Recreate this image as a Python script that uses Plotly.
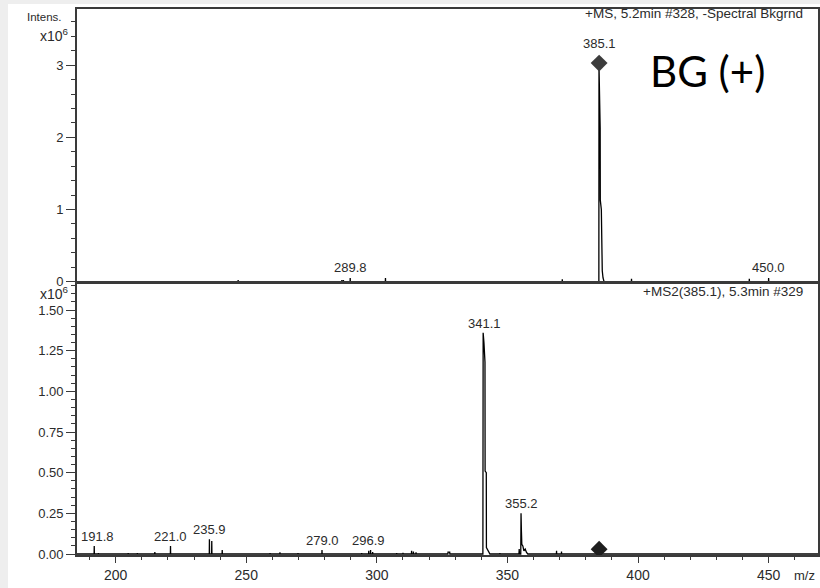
import plotly.graph_objects as go
from plotly.subplots import make_subplots

# ---------------- data (intensity in units of 10^6) ----------------
# MS1 full scan (top panel): profile of precursor + small sticks
ms1_profile_mz = [385.0, 385.05, 385.5, 385.55, 385.95, 386.0, 386.3, 386.6, 387.0]
ms1_profile_int = [0.0, 3.0, 2.13, 1.13, 1.0, 0.57, 0.15, 0.05, 0.0]
ms1_stick_mz = [209.7, 246.9, 286.6, 287.2, 289.8, 303.3, 371.0, 397.5, 442.6, 450.0]
ms1_stick_int = [0.01, 0.02, 0.02, 0.02, 0.05, 0.05, 0.03, 0.04, 0.04, 0.05]
ms1_label_mz = [289.8, 385.1, 450.0]
ms1_label_int = [0.05, 3.0, 0.05]
ms1_label_text = ["289.8", "385.1", "450.0"]

# MS2 of 385.1 (bottom panel)
ms2_profile_mz = [327.2, 327.25, 327.9, 327.95,
                  340.6, 340.7, 341.0, 341.4, 341.45, 341.9, 341.95, 342.5, 343.3,
                  354.4, 354.5, 354.6,
                  355.1, 355.2, 355.35, 355.5, 355.9, 356.3, 356.8, 357.3, 357.8]
ms2_profile_int = [0.0, 0.012, 0.012, 0.0,
                   0.0, 1.36, 1.30, 1.18, 0.51, 0.50, 0.04, 0.02, 0.0,
                   0.0, 0.03, 0.0,
                   0.0, 0.25, 0.14, 0.06, 0.05, 0.02, 0.03, 0.01, 0.0]
ms2_stick_mz = [191.8, 193.4, 204.8, 208.3, 215.0, 221.0, 235.9, 236.8, 240.8,
                259.1, 262.9, 269.8, 279.0, 294.2, 296.9, 297.6, 298.4, 307.6,
                310.0, 313.3, 314.0, 315.0, 347.1, 368.8, 370.7]
ms2_stick_int = [0.05, 0.006, 0.005, 0.005, 0.012, 0.05, 0.09, 0.08, 0.025,
                 0.005, 0.01, 0.005, 0.025, 0.006, 0.02, 0.025, 0.012, 0.006,
                 0.007, 0.02, 0.015, 0.01, 0.006, 0.02, 0.015]
ms2_label_mz = [191.8, 221.0, 235.9, 279.0, 296.9, 341.1, 355.2]
ms2_label_int = [0.05, 0.05, 0.09, 0.025, 0.025, 1.36, 0.25]
ms2_label_text = ["191.8", "221.0", "235.9", "279.0", "296.9", "341.1", "355.2"]

precursor_mz = 385.1
precursor_int_ms1 = 3.03
precursor_int_ms2 = 0.03

x_range = [185.2, 468.9]
ms1_y_range = [-0.006, 3.78]
ms2_y_range = [-0.006, 1.666]
x_ticks = [200, 250, 300, 350, 400, 450]
ms1_y_ticks = [0, 1, 2, 3]
ms2_y_ticks = [0.0, 0.25, 0.5, 0.75, 1.0, 1.25, 1.5]

title_ms1 = "+MS, 5.2min #328, -Spectral Bkgrnd"
title_ms2 = "+MS2(385.1), 5.3min #329"
big_label = "BG (+)"

# ---------------- helpers ----------------
def build_trace(profile_mz, profile_int, stick_mz, stick_int):
    pts = list(zip(profile_mz, profile_int))
    for m, h in zip(stick_mz, stick_int):
        pts += [(m - 0.05, 0.0), (m, h), (m + 0.05, 0.0)]
    pts.append((x_range[0], 0.0))
    pts.append((x_range[1], 0.0))
    pts.sort(key=lambda p: p[0])
    return [p[0] for p in pts], [p[1] for p in pts]

W, H = 820, 588
ML, MR, MT, MB = 77, 2, 9, 33
PW = W - ML - MR
PH = H - MT - MB

def px(xp):
    return (xp - ML) / PW

def py(yp):
    return (H - MB - yp) / PH

FONT = "Liberation Sans, Arial, sans-serif"
TXT = "#2b2b2b"
AX = "#3a3a3a"

fig = make_subplots(rows=2, cols=1, shared_xaxes=False, vertical_spacing=0)

x1, y1 = build_trace(ms1_profile_mz, ms1_profile_int, ms1_stick_mz, ms1_stick_int)
x2, y2 = build_trace(ms2_profile_mz, ms2_profile_int, ms2_stick_mz, ms2_stick_int)

fig.add_trace(go.Scatter(x=x1, y=y1, mode="lines", line=dict(color="black", width=1.3),
                         hoverinfo="skip", showlegend=False), row=1, col=1)
fig.add_trace(go.Scatter(x=x2, y=y2, mode="lines", line=dict(color="black", width=1.3),
                         hoverinfo="skip", showlegend=False), row=2, col=1)
fig.add_trace(go.Scatter(x=[precursor_mz], y=[precursor_int_ms1], mode="markers",
                         marker=dict(symbol="diamond", size=13, color="#3c3c3c"),
                         showlegend=False), row=1, col=1)
fig.add_trace(go.Scatter(x=[precursor_mz], y=[precursor_int_ms2], mode="markers",
                         marker=dict(symbol="diamond", size=13, color="#1e1e1e"),
                         showlegend=False), row=2, col=1)

axis_common = dict(showgrid=False, zeroline=False, showline=True, linecolor=AX,
                   linewidth=1.6, mirror=True, automargin=False,
                   tickfont=dict(family=FONT, size=13, color=TXT), tickcolor=AX)

fig.update_layout(
    width=W, height=H, margin=dict(l=ML, r=MR, t=MT, b=MB, autoexpand=False),
    paper_bgcolor="white", plot_bgcolor="white", showlegend=False,
    xaxis=dict(axis_common, domain=[0, 1], range=x_range, showticklabels=False, ticks=""),
    yaxis=dict(axis_common, domain=[py(282), 1], range=ms1_y_range, tickvals=ms1_y_ticks,
               ticks="outside", ticklen=9, tickwidth=1.2,
               minor=dict(dtick=0.2, ticks="outside", ticklen=4, tickcolor=AX, tickwidth=1)),
    xaxis2=dict(axis_common, domain=[0, 1], range=x_range, tickvals=x_ticks,
                tickfont=dict(family=FONT, size=14, color=TXT),
                ticks="outside", ticklen=6, tickwidth=1.2,
                minor=dict(dtick=10, tick0=0, ticks="outside", ticklen=3, tickcolor=AX, tickwidth=1)),
    yaxis2=dict(axis_common, domain=[0, py(283)], range=ms2_y_range, tickvals=ms2_y_ticks,
                tickformat=".2f", ticks="outside", ticklen=9, tickwidth=1.2,
                minor=dict(dtick=0.05, tick0=0, ticks="outside", ticklen=4, tickcolor=AX, tickwidth=1)),
)

ann = []
for m, h, t in zip(ms1_label_mz, ms1_label_int, ms1_label_text):
    shift = 12 if t == "385.1" else 1
    ann.append(dict(x=m, y=h, xref="x", yref="y", text=t, showarrow=False,
                    yanchor="bottom", yshift=shift,
                    font=dict(family=FONT, size=13, color=TXT)))
for m, h, t in zip(ms2_label_mz, ms2_label_int, ms2_label_text):
    xs = 3 if t == "191.8" else 0
    ann.append(dict(x=m, y=h, xref="x2", yref="y2", text=t, showarrow=False,
                    yanchor="bottom", yshift=0, xshift=xs,
                    font=dict(family=FONT, size=13, color=TXT)))

ann += [
    dict(x=px(805), y=py(14), xref="paper", yref="paper", text=title_ms1, showarrow=False,
         xanchor="right", yanchor="middle", font=dict(family=FONT, size=13.5, color=TXT)),
    dict(x=px(805), y=py(292), xref="paper", yref="paper", text=title_ms2, showarrow=False,
         xanchor="right", yanchor="middle", font=dict(family=FONT, size=13.5, color=TXT)),
    dict(x=px(707), y=py(71), xref="paper", yref="paper", text=big_label, showarrow=False,
         xanchor="center", yanchor="middle", font=dict(family="Lato, Open Sans, sans-serif", size=42, color="black")),
    dict(x=px(64), y=py(17), xref="paper", yref="paper", text="Intens.", showarrow=False,
         xanchor="right", yanchor="middle", font=dict(family=FONT, size=11.5, color=TXT)),
    dict(x=px(71), y=py(35), xref="paper", yref="paper", text="x10<sup>6</sup>", showarrow=False,
         xanchor="right", yanchor="middle", font=dict(family=FONT, size=14, color=TXT)),
    dict(x=px(71), y=py(293), xref="paper", yref="paper", text="x10<sup>6</sup>", showarrow=False,
         xanchor="right", yanchor="middle", font=dict(family=FONT, size=14, color=TXT)),
    dict(x=px(804), y=py(575), xref="paper", yref="paper", text="m/z", showarrow=False,
         xanchor="center", yanchor="middle", font=dict(family=FONT, size=13, color=TXT)),
]
fig.update_layout(annotations=ann)

# light grey frame strips at the left and top edge of the image
fig.add_shape(type="rect", xref="paper", yref="paper", x0=px(0), x1=px(8), y0=py(H), y1=py(0),
              fillcolor="#eeeeee", line=dict(width=0), layer="below")
fig.add_shape(type="rect", xref="paper", yref="paper", x0=px(0), x1=px(W), y0=py(4), y1=py(0),
              fillcolor="#eeeeee", line=dict(width=0), layer="below")

fig.write_html("out.html", config={"displayModeBar": False},
               post_script="document.body.style.margin='0px';")
